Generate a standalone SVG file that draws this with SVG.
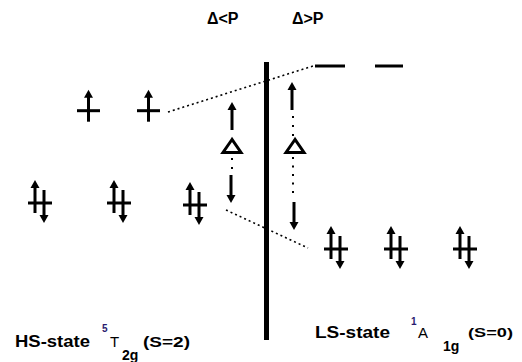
<svg xmlns="http://www.w3.org/2000/svg" width="522" height="362" viewBox="0 0 522 362">
<style>
.sh{stroke:#000;stroke-width:3;fill:none}
.bar{stroke:#000;stroke-width:3}
.dot{stroke:#000;stroke-width:1.6;stroke-dasharray:2 3;fill:none}
.vdot{stroke:#000;stroke-width:2;fill:none}
.t{font-family:"Liberation Sans",Arial,sans-serif;fill:#000}
.b{font-weight:bold}
.sup{fill:#2a1a6e}
</style>
<defs>
<marker id="ah" markerUnits="userSpaceOnUse" markerWidth="9" markerHeight="10" viewBox="0 -5 9 10" refX="1" refY="0" orient="auto">
<path d="M0,-4.5 L8,0 L0,4.5 Z" fill="#000"/>
</marker>
<g id="pair">
<line class="bar" x1="-12" y1="0" x2="12" y2="0"/>
<line class="sh" x1="-5" y1="10" x2="-5" y2="-16" marker-end="url(#ah)"/>
<line class="sh" x1="4" y1="-13" x2="4" y2="13" marker-end="url(#ah)"/>
</g>
<g id="single">
<line class="bar" x1="-11.5" y1="0" x2="11.5" y2="0"/>
<line class="sh" x1="0" y1="11" x2="0" y2="-14" marker-end="url(#ah)"/>
</g>
</defs>
<rect width="522" height="362" fill="#fff"/>

<g id="connectors">
<line class="dot" x1="168" y1="112" x2="313" y2="66"/>
<line class="dot" x1="226" y1="210" x2="308" y2="248"/>
</g>

<g id="divider">
<rect x="264" y="62" width="5" height="278" fill="#000"/>
</g>

<g id="title-left"><text class="t b" x="207" y="24" font-size="16">Δ&lt;P</text></g>
<g id="title-right"><text class="t b" x="292" y="24" font-size="16">Δ&gt;P</text></g>

<g id="eg-ls">
<line class="bar" x1="315" y1="66" x2="345" y2="66"/>
<line class="bar" x1="375" y1="66" x2="403" y2="66"/>
</g>

<g id="eg-hs">
<use href="#single" x="88.5" y="110.7"/>
<use href="#single" x="148.5" y="110.7"/>
</g>

<g id="t2g-hs">
<use href="#pair" x="40" y="203"/>
<use href="#pair" x="119" y="203"/>
<use href="#pair" x="195" y="205"/>
</g>

<g id="t2g-ls">
<use href="#pair" x="336" y="249"/>
<use href="#pair" x="396" y="249"/>
<use href="#pair" x="465" y="249"/>
</g>

<g id="gap-left">
<line class="sh" x1="232" y1="130" x2="232" y2="109" marker-end="url(#ah)"/>
<path class="sh" d="M232,139.5 L223,152.5 L241,152.5 Z"/>
<line class="vdot" x1="232" y1="158" x2="232" y2="170" stroke-dasharray="2 7"/>
<line class="sh" x1="231" y1="175" x2="231" y2="196" marker-end="url(#ah)"/>
</g>

<g id="gap-right">
<line class="sh" x1="292" y1="110" x2="292" y2="89" marker-end="url(#ah)"/>
<line class="vdot" x1="293" y1="116" x2="293" y2="136" stroke-dasharray="2 7"/>
<path class="sh" d="M295,139.5 L286,152.5 L304,152.5 Z"/>
<line class="vdot" x1="293" y1="157" x2="293" y2="194" stroke-dasharray="2 6.5"/>
<line class="sh" x1="294" y1="202" x2="294" y2="223" marker-end="url(#ah)"/>
</g>

<g id="label-hs">
<text class="t b" x="15" y="347" font-size="16.5" textLength="75" lengthAdjust="spacingAndGlyphs">HS-state</text>
<text class="t b sup" x="102" y="332" font-size="10">5</text>
<text class="t" x="110" y="347" font-size="15">T</text>
<text class="t b" x="122" y="360" font-size="14">2g</text>
<text class="t b" x="143" y="347" font-size="15" textLength="47" lengthAdjust="spacingAndGlyphs">(S=2)</text>
</g>

<g id="label-ls">
<text class="t b" x="315" y="338" font-size="16.5" textLength="75" lengthAdjust="spacingAndGlyphs">LS-state</text>
<text class="t b sup" x="411" y="325" font-size="10">1</text>
<text class="t" x="418" y="338" font-size="15">A</text>
<text class="t b" x="443" y="351" font-size="14">1g</text>
<text class="t b" x="468" y="337" font-size="13" textLength="45" lengthAdjust="spacingAndGlyphs">(S=0)</text>
</g>
</svg>
